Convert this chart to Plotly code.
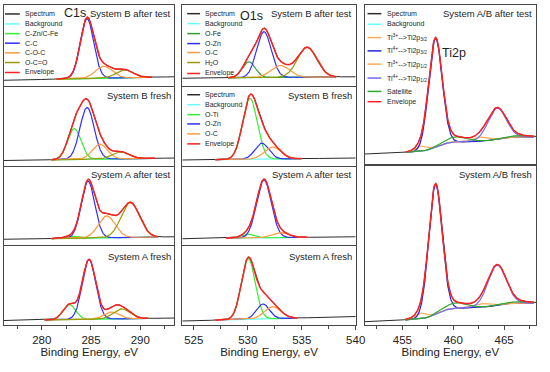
import numpy as np
import plotly.graph_objects as go

# ------------------------------------------------------------------ data
# C1s column (4 panels, top to bottom); peak parameters
c1s_xrange = [276.17, 293.47]
c1s_titles = ["System B after test", "System B fresh", "System A after test", "System A fresh"]
c1s_comp_names = ["C-Zn/C-Fe", "C-C", "C-O-C", "O-C=O"]
c1s_center = [[283.0, 284.6, 286.3, 288.4],
              [283.3, 284.6, 285.9, 288.0],
              [283.0, 284.7, 286.6, 289.0],
              [282.8, 284.8, 287.1, 288.1]]
c1s_height = [[0.5, 60, 12, 8],
              [31, 52, 15, 7],
              [2, 57, 22, 35],
              [15, 60, 7, 10]]
c1s_fwhm = [[1.5, 1.6, 2.0, 2.0],
            [1.6, 1.7, 1.8, 2.0],
            [1.5, 1.6, 2.0, 2.2],
            [1.5, 1.6, 1.8, 2.0]]
c1s_bg_ends = [[6.0, 9.5], [5.5, 8.0], [5.5, 8.0], [4.5, 7.0]]
c1s_fit = [[281.5, 291.2], [281.0, 291.5], [281.0, 291.8], [280.3, 290.8]]

# O1s column
o1s_xrange = [523.94, 540.0]
o1s_titles = ["System B after test", "System B fresh", "System A after test", "System A fresh"]
o1s_comp_names = [["O-Fe", "O-Zn", "O-C", "H2O"],
                  ["O-Ti", "O-Zn", "O-C"],
                  ["O-Ti", "O-Zn", "O-C"],
                  ["O-Ti", "O-Zn", "O-C"]]
o1s_center = [[530.1, 531.5, 533.0, 535.5],
              [530.2, 531.3, 532.3],
              [530.0, 531.5, 533.0],
              [530.05, 531.4, 532.3]]
o1s_height = [[16, 46, 12, 30],
              [61, 16, 12],
              [4, 58, 5],
              [61, 15, 12]]
o1s_fwhm = [[1.4, 1.6, 2.0, 2.1],
            [1.6, 1.5, 1.8],
            [1.4, 1.6, 1.8],
            [1.5, 1.4, 1.8]]
o1s_bg_ends = [[8.0, 9.5], [6.0, 8.0], [6.0, 8.0], [4.0, 8.5]]
o1s_fit = [[528.2, 538.2], [527.0, 535.0], [528.0, 535.5], [527.0, 534.6]]

# Ti2p column (2 panels)
ti_xrange = [451.29, 468.13]
ti_titles = ["System A/B after test", "System A/B fresh"]
ti_comp_names = ["Ti3+ 2p3/2", "Ti4+ 2p3/2", "Ti3+ 2p1/2", "Ti4+ 2p1/2"]
ti_center = [456.8, 458.25, 462.7, 464.3]
ti_height = [[5, 109, 4, 31], [5.5, 130, 3.5, 40]]
ti_fwhm = [1.4, 1.55, 1.8, 2.1]
ti_sat_center = [460.3, 466.5]
ti_sat_height = [[5, 1.5], [5.5, 1.5]]
ti_sat_fwhm = [2.4, 3.0]
ti_bg_energy = [451.29, 455.0, 456.5, 457.5, 458.25, 459.0, 459.8, 462.0, 463.5, 464.3, 465.2, 466.5, 468.13]
ti_bg_level = [[10, 11.5, 12.5, 14, 17, 20, 22, 22.5, 23.5, 25, 26.5, 27, 27],
               [3.3, 5.0, 6.0, 7.5, 11.0, 14.5, 16.5, 17.5, 18.5, 20.0, 21.5, 22.0, 22.0]]
ti_fit = [455.3, 467.9]

x_dtick = 5
axis_title = "Binding Energy, eV"

# ------------------------------------------------------------------ layout helpers
W, H = 550, 372
ML, MR, MT, MB = 4, 6, 4, 47
PW = W - ML - MR
PH = H - MT - MB


def xp(px):
    return (px - ML) / PW


def yp(py):
    return (MT + PH - py) / PH


FONT = "Liberation Sans Narrow, Arial Narrow, Liberation Sans, Arial, sans-serif"
COL = {
    "Spectrum": "#2b2b2b", "Background": "#66ffff",
    "C-Zn/C-Fe": "#33ee33", "C-C": "#2f2fff", "C-O-C": "#ff9a3c", "O-C=O": "#9a9a00",
    "O-Fe": "#2e9e2e", "O-Ti": "#33ee33", "O-Zn": "#2f2fff", "O-C": "#ff9a3c", "H2O": "#9a9a00",
    "Ti3+ 2p3/2": "#ffaa55", "Ti4+ 2p3/2": "#2424d8", "Ti3+ 2p1/2": "#ffaa55", "Ti4+ 2p1/2": "#6a6aff",
    "Satellite": "#2ea82e", "Envelope": "#ff2020",
}

cols_px = [(4, 177), (185, 361), (370, 544)]
rows4_px = [(4, 85.5), (86.5, 165.5), (166.5, 244.5), (245.5, 325)]
rows2_px = [(4, 163.5), (165.5, 325)]


def peak(x, c, h, w):
    return h * np.exp(-4 * np.log(2) * (x - c) ** 2 / w ** 2)


fig = go.Figure()
layout_axes = {}


def axname(prefix, k):
    return prefix if k == 1 else "%s%d" % (prefix, k)


def add_axes(k, col, row, xr, bottom):
    top_px, bot_px = row
    hpx = bot_px - top_px
    xa = dict(domain=[xp(col[0]), xp(col[1])], range=xr, anchor=axname("y", k),
              showline=True, mirror=True, linecolor="#474747", linewidth=1,
              showgrid=False, zeroline=False)
    if bottom:
        xa.update(ticks="outside", ticklen=4, tickcolor="#474747", dtick=x_dtick,
                  tickfont=dict(family=FONT, size=11.5, color="#222"),
                  minor=dict(ticks="outside", ticklen=2.5, dtick=2.5, tickcolor="#474747"),
                  title=dict(text=axis_title, font=dict(family=FONT, size=11.5, color="#222"), standoff=3))
    else:
        xa.update(ticks="", showticklabels=False)
    ya = dict(domain=[yp(bot_px), yp(top_px)], range=[0, hpx], anchor=axname("x", k),
              showline=True, mirror=True, linecolor="#474747", linewidth=1,
              showgrid=False, zeroline=False, showticklabels=False, ticks="")
    layout_axes[axname("xaxis", k)] = xa
    layout_axes[axname("yaxis", k)] = ya


def line(k, x, y, color, width):
    fig.add_trace(go.Scatter(x=x, y=y, mode="lines", xaxis=axname("x", k), yaxis=axname("y", k),
                             line=dict(color=color, width=width), hoverinfo="skip", showlegend=False))


def draw_panel(k, xr, fit, bg_fn, names, centers, heights, widths, extra=None):
    xf = np.linspace(xr[0], xr[1], 500)
    xs = np.linspace(fit[0], fit[1], 400)
    bgf = bg_fn(xf)
    bgs = bg_fn(xs)
    peaks_f = [peak(xf, c, h, w) for c, h, w in zip(centers, heights, widths)]
    peaks_s = [peak(xs, c, h, w) for c, h, w in zip(centers, heights, widths)]
    extra_f = np.zeros_like(xf)
    extra_s = np.zeros_like(xs)
    if extra is not None:
        for c, h, w in zip(*extra):
            extra_f += peak(xf, c, h, w)
            extra_s += peak(xs, c, h, w)
    line(k, xf, bgf + sum(peaks_f) + extra_f, COL["Spectrum"], 1)
    line(k, xs, bgs, COL["Background"], 1.2)
    for n, p in zip(names, peaks_s):
        line(k, xs, bgs + p, COL[n], 1.2)
    if extra is not None:
        line(k, xs, bgs + extra_s, COL["Satellite"], 1.2)
    line(k, xs, bgs + sum(peaks_s) + extra_s, COL["Envelope"], 1.5)


def lin_bg(xr, levels):
    return lambda x: np.interp(x, xr, levels)


for i in range(4):
    k = i + 1
    add_axes(k, cols_px[0], rows4_px[i], c1s_xrange, i == 3)
    draw_panel(k, c1s_xrange, c1s_fit[i], lin_bg(c1s_xrange, c1s_bg_ends[i]),
               c1s_comp_names, c1s_center[i], c1s_height[i], c1s_fwhm[i])
for i in range(4):
    k = i + 5
    add_axes(k, cols_px[1], rows4_px[i], o1s_xrange, i == 3)
    draw_panel(k, o1s_xrange, o1s_fit[i], lin_bg(o1s_xrange, o1s_bg_ends[i]),
               o1s_comp_names[i], o1s_center[i], o1s_height[i], o1s_fwhm[i])
for i in range(2):
    k = i + 9
    add_axes(k, cols_px[2], rows2_px[i], ti_xrange, i == 1)
    draw_panel(k, ti_xrange, ti_fit, lin_bg(ti_bg_energy, ti_bg_level[i]),
               ti_comp_names, ti_center, ti_height[i], ti_fwhm,
               extra=(ti_sat_center, ti_sat_height[i], ti_sat_fwhm))

annotations = []
shapes = []


def text(px, py, s, size, anchor="left"):
    annotations.append(dict(x=xp(px), y=yp(py), xref="paper", yref="paper", text=s, showarrow=False,
                            xanchor=anchor, yanchor="middle",
                            font=dict(family=FONT, size=size, color="#1e1e1e")))


for i, t in enumerate(c1s_titles):
    text(175.5, [13, 95, 174, 256][i], t, 9.5, "right")
for i, t in enumerate(o1s_titles):
    text(359.5, [13, 95, 174, 256][i], t, 9.5, "right")
for i, t in enumerate(ti_titles):
    text(542, [13, 174][i], t, 9.5, "right")
text(76, 12, "C1s", 12.5, "center")
text(255, 15, "O1s", 12.5, "center")
text(461, 52.5, "Ti2p", 12.5, "center")


def legend_block(x1, x2, xt, ys, entries):
    for y, (key, label) in zip(ys, entries):
        shapes.append(dict(type="line", xref="paper", yref="paper", x0=xp(x1), x1=xp(x2),
                           y0=yp(y), y1=yp(y), line=dict(color=COL[key], width=1.5)))
        text(xt, y, label, 7)


legend_block(5, 20, 23, [13, 23, 32.7, 42.3, 52, 61.7, 71.7],
             [("Spectrum", "Spectrum"), ("Background", "Background"), ("C-Zn/C-Fe", "C-Zn/C-Fe"),
              ("C-C", "C-C"), ("C-O-C", "C-O-C"), ("O-C=O", "O-C=O"), ("Envelope", "Envelope")])
legend_block(190, 203, 205.7, [12.7, 22.7, 32.7, 42.7, 51.7, 61.7, 72.7],
             [("Spectrum", "Spectrum"), ("Background", "Background"), ("O-Fe", "O-Fe"),
              ("O-Zn", "O-Zn"), ("O-C", "O-C"), ("H2O", "H<sub>2</sub>O"), ("Envelope", "Envelope")])
legend_block(190, 203, 205.7, [94, 104, 114, 123.3, 133.3, 143.3],
             [("Spectrum", "Spectrum"), ("Background", "Background"), ("O-Ti", "O-Ti"),
              ("O-Zn", "O-Zn"), ("O-C", "O-C"), ("Envelope", "Envelope")])
legend_block(373, 387, 391, [12.7, 23.3, 36.7, 50, 63.3, 77.3, 90.7, 101],
             [("Spectrum", "Spectrum"), ("Background", "Background"),
              ("Ti3+ 2p3/2", "Ti<sup>3+</sup>-->Ti2p<sub>3/2</sub>"),
              ("Ti4+ 2p3/2", "Ti<sup>4+</sup>-->Ti2p<sub>3/2</sub>"),
              ("Ti3+ 2p1/2", "Ti<sup>3+</sup>-->Ti2p<sub>1/2</sub>"),
              ("Ti4+ 2p1/2", "Ti<sup>4+</sup>-->Ti2p<sub>1/2</sub>"),
              ("Satellite", "Satellite"), ("Envelope", "Envelope")])

fig.update_layout(width=W, height=H, margin=dict(l=ML, r=MR, t=MT, b=MB),
                  paper_bgcolor="white", plot_bgcolor="white", showlegend=False,
                  hovermode=False,
                  annotations=annotations, shapes=shapes, **layout_axes)
fig.write_html("out.html", config={"displayModeBar": False, "staticPlot": True},
               post_script="document.body.style.margin='0px';document.body.style.overflow='hidden';")
